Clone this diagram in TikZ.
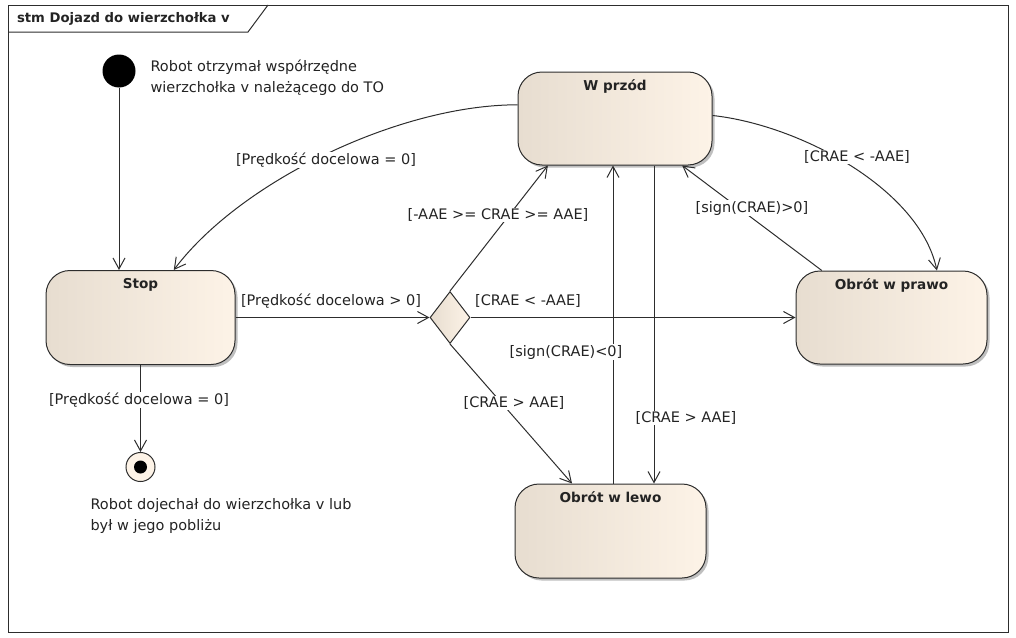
\documentclass[tikz,border=0pt]{standalone}
\usepackage{fontspec}
\setmainfont{DejaVu Sans}
\usetikzlibrary{arrows.meta,shapes.geometric,shadows,calc}
\definecolor{stL}{RGB}{231,221,208}
\definecolor{stR}{RGB}{253,243,231}
\definecolor{ln}{RGB}{45,45,45}
\definecolor{tx}{RGB}{35,35,35}
\begin{document}
\begin{tikzpicture}[x=1pt,y=-1pt,
  state/.style={draw=ln, line width=1pt, rounded corners=24pt, left color=stL, right color=stR,
     drop shadow={shadow xshift=2.5pt, shadow yshift=-2.5pt, fill=black, opacity=0.25}},
  stname/.style={font=\bfseries\fontsize{13.6}{15}\selectfont, text=tx},
  ttl/.style={font=\bfseries\fontsize{13.2}{15}\selectfont, text=tx},
  txt/.style={font=\fontsize{14.5}{21}\selectfont, text=tx, align=left},
  lbl/.style={font=\fontsize{14.5}{17}\selectfont, text=tx, fill=white, inner sep=1pt},
  conn/.style={draw=ln, line width=1pt, -{Straight Barb[length=11pt,width=12pt,line width=1pt]}}]
\useasboundingbox (0,0) rectangle (1016,637);
% frame
\draw[ln, line width=1pt] (8,5) rectangle (1008,632);
\draw[ln, line width=1pt] (8,32) -- (248,32) -- (268,5);
\node[ttl, anchor=west] (title) at (13.5,19) {stm Dojazd do wierzchołka v};
% nodes
\node[circle, fill=black, minimum size=33pt, inner sep=0pt] (start) at (119,71) {};
\node[txt, anchor=west] (starttxt) at (147,78) {Robot otrzymał współrzędne\\wierzchołka v należącego do TO};
\node[state, minimum width=189pt, minimum height=94pt,
  label={[stname,anchor=north,yshift=-5pt]north:Stop}] (stop) at (140.5,317.5) {};
\node[state, minimum width=194pt, minimum height=93pt,
  label={[stname,anchor=north,yshift=-5pt]north:W przód}] (wp) at (615,118.5) {};
\node[state, minimum width=191pt, minimum height=93pt,
  label={[stname,anchor=north,yshift=-5pt]north:Obrót w prawo}] (prawo) at (891.5,317.5) {};
\node[state, minimum width=191pt, minimum height=94pt,
  label={[stname,anchor=north,yshift=-5pt]north:Obrót w lewo}] (lewo) at (610.5,531) {};
\node[diamond, draw=ln, line width=1pt, left color=stL, right color=stR, minimum width=40pt,
  minimum height=52pt, inner sep=0pt] (dec) at (450,317.5) {};
\node[circle, draw=ln, line width=1pt, fill=stR, minimum size=29pt, inner sep=0pt,
  path picture={\fill[black] (path picture bounding box.center) circle[radius=6.5pt];}] (final) at (140.5,467) {};
\node[txt, anchor=west] (fintxt) at (87,516) {Robot dojechał do wierzchołka v lub\\był w jego pobliżu};
% connectors
\draw[conn] (start) -- (start |- stop.north);
\draw[conn] (wp.172) .. controls +(-118,0) and +(67,-89) .. (stop.55);
\draw[conn] (stop.east) -- (dec.west);
\draw[conn] (dec.north) -- (wp.215);
\draw[conn] (dec.east) -- (prawo.west);
\draw[conn] (dec.south) -- (lewo.129);
\draw[conn] ([xshift=2.5pt]lewo.north) -- ([xshift=2.5pt]lewo.north |- wp.south);
\draw[conn] ([xshift=39pt]wp.south) -- ([xshift=39pt]wp.south |- lewo.north);
\draw[conn] ([yshift=3pt]wp.east) .. controls +(88,9.5) and +(-17,-81) .. (prawo.46);
\draw[conn] (prawo.146) -- (wp.325);
\draw[conn] (stop.south) -- (final);
% labels
\node[lbl] (l1) at (326,160) {[Prędkość docelowa = 0]};
\node[lbl, fill=none] (l2) at (331,301) {[Prędkość docelowa > 0]};
\node[lbl] (l3) at (498,215) {[-AAE >= CRAE >= AAE]};
\node[lbl, fill=none] (l4) at (528,301) {[CRAE < -AAE]};
\node[lbl] (l5) at (566,352) {[sign(CRAE)<0]};
\node[lbl] (l6) at (514,403) {[CRAE > AAE]};
\node[lbl] (l7) at (686,418) {[CRAE > AAE]};
\node[lbl] (l8) at (752,208) {[sign(CRAE)>0]};
\node[lbl] (l9) at (857,157) {[CRAE < -AAE]};
\node[lbl] (l10) at (139,400) {[Prędkość docelowa = 0]};
\end{tikzpicture}
\end{document}
